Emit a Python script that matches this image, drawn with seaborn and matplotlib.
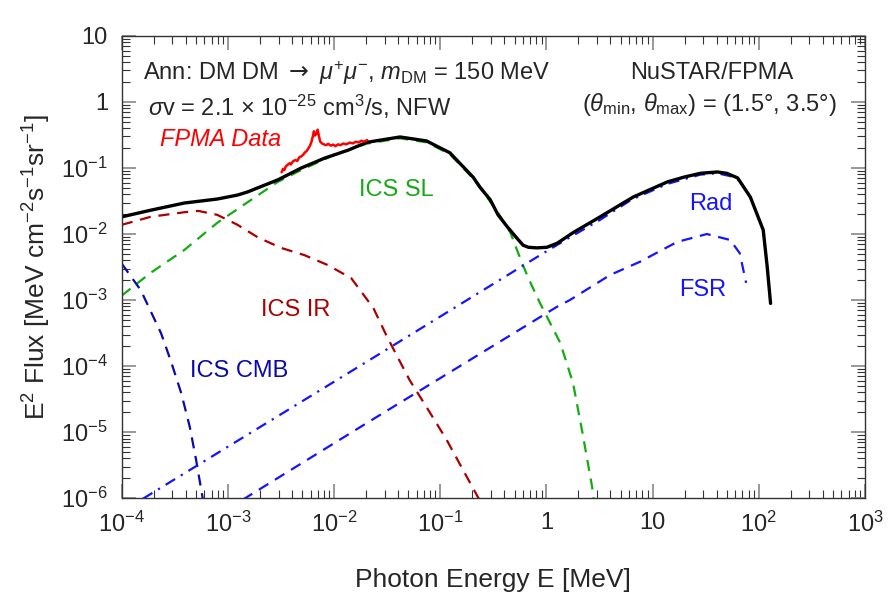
import numpy as np
import pandas as pd
import seaborn as sns
from matplotlib import pyplot as plt
from matplotlib import ticker

sns.set_style('ticks')
plt.rcParams['font.family'] = ['Liberation Sans', 'DejaVu Sans']
plt.rcParams['mathtext.fontset'] = 'custom'
plt.rcParams['mathtext.rm'] = 'Liberation Sans'
plt.rcParams['mathtext.it'] = 'Liberation Sans:italic'
plt.rcParams['mathtext.bf'] = 'Liberation Sans:bold'
plt.rcParams['mathtext.sf'] = 'DejaVu Sans'

# total spectrum
total_E = [1.0e-4, 1.86e-4, 3.89e-4, 7.94e-4, 1.23e-3, 1.55e-3, 1.91e-3, 2.95e-3, 4.9e-3,
           8.13e-3, 1.35e-2, 2.04e-2, 4.17e-2, 7.41e-2, 0.123, 0.204, 0.237, 0.295, 0.35,
           0.427, 0.525, 0.603, 0.676, 0.813, 1.01, 1.26, 1.78, 3.2, 6.55, 13.8, 19.5, 28.2,
           40.7, 50.0, 63.1, 83.2, 110, 120, 129]
total_F = [1.82e-2, 2.29e-2, 2.95e-2, 3.39e-2, 3.89e-2, 4.37e-2, 5.01e-2, 6.61e-2, 0.100,
           0.141, 0.186, 0.245, 0.295, 0.257, 0.170, 7.24e-2, 5.1e-2, 3.31e-2, 1.95e-2,
           1.29e-2, 8.7e-3, 6.76e-3, 6.3e-3, 6.17e-3, 6.3e-3, 7.24e-3, 1.05e-2, 1.82e-2,
           3.63e-2, 6.17e-2, 7.24e-2, 8.32e-2, 8.71e-2, 8.3e-2, 7.08e-2, 3.63e-2, 1.15e-2,
           3.16e-3, 8.9e-4]

# ICS on IR photons
ir_E = [1e-4, 1.86e-4, 3.89e-4, 5.25e-4, 7.94e-4, 1.23e-3, 1.91e-3, 3.16e-3, 5.25e-3,
        8.71e-3, 1.45e-2, 2.34e-2, 3.16e-2, 5.13e-2, 7.41e-2, 0.115, 0.178, 0.229, 0.25]
ir_F = [1.38e-2, 1.82e-2, 2.14e-2, 2.24e-2, 1.95e-2, 1.38e-2, 8.91e-3, 6.17e-3, 4.79e-3,
        3.39e-3, 2.14e-3, 7.59e-4, 2.75e-4, 6.17e-5, 2.40e-5, 7.59e-6, 2.09e-6, 1.0e-6, 7.9e-7]

# ICS on starlight
sl_E = [1e-4, 1.86e-4, 3.89e-4, 7.94e-4, 1.66e-3, 2.95e-3, 4.9e-3, 1e-2, 2.04e-2, 4.17e-2,
        7.41e-2, 0.123, 0.204, 0.339, 0.457, 0.589, 0.676, 0.871, 1.35, 1.78, 2.19, 2.69, 2.88]
sl_F = [1.17e-3, 2.57e-3, 5.75e-3, 1.48e-2, 3.31e-2, 6.17e-2, 9.33e-2, 0.158, 0.234, 0.282,
        0.245, 0.162, 6.92e-2, 2.29e-2, 1.05e-2, 3.63e-3, 2.14e-3, 8.91e-4, 2.24e-4, 5.5e-5,
        9.5e-6, 1.48e-6, 6.3e-7]

# ICS on CMB
cmb_E = [1e-4, 1.51e-4, 1.95e-4, 2.34e-4, 2.88e-4, 3.63e-4, 4.37e-4, 5.01e-4, 5.75e-4, 6.03e-4]
cmb_F = [3.55e-3, 1.41e-3, 5.89e-4, 3.16e-4, 1.23e-4, 3.89e-5, 1.2e-5, 3.8e-6, 1.05e-6, 6.3e-7]

# radiative (internal bremsstrahlung)
rad_E = [1.58e-4, 1.95e-2, 0.871, 1.58, 3.16, 6.31, 13.8, 28.2, 40.7, 56.2, 70.8]
rad_F = [9.8e-7, 1.12e-4, 4.79e-3, 8.5e-3, 1.62e-2, 3.31e-2, 5.75e-2, 7.94e-2, 8.32e-2,
         7.41e-2, 6.03e-2]

# final state radiation
fsr_E = [1.38e-3, 2.04e-2, 1.26, 1.66, 3.98, 7.59, 17.0, 32.4, 53.7, 66.1, 75.9]
fsr_F = [9.5e-7, 1.38e-5, 7.94e-4, 1.0e-3, 2.4e-3, 3.8e-3, 7.59e-3, 1.0e-2, 8.13e-3,
         5.13e-3, 1.82e-3]

# NuSTAR FPMA data
fpma_E = [3.2e-3, 3.3e-3, 3.4e-3, 3.5e-3, 3.6e-3, 3.8e-3, 3.9e-3, 4.1e-3, 4.3e-3, 4.5e-3,
          4.7e-3, 4.9e-3, 5.1e-3, 5.3e-3, 5.5e-3, 5.7e-3, 5.9e-3, 6.1e-3, 6.3e-3, 6.45e-3,
          6.6e-3, 6.8e-3, 7.0e-3, 7.2e-3, 7.4e-3, 7.7e-3, 8.0e-3, 8.4e-3, 8.8e-3, 9.3e-3,
          9.8e-3, 1.03e-2, 1.09e-2, 1.15e-2, 1.22e-2, 1.3e-2, 1.4e-2, 1.5e-2, 1.6e-2, 1.7e-2,
          1.8e-2, 1.9e-2, 2.05e-2]
fpma_F = [0.086, 0.097, 0.093, 0.105, 0.110, 0.118, 0.113, 0.126, 0.132, 0.128,
          0.145, 0.150, 0.158, 0.172, 0.180, 0.196, 0.215, 0.245, 0.300, 0.36,
          0.31, 0.33, 0.38, 0.30, 0.25, 0.235, 0.228, 0.222, 0.232, 0.218,
          0.226, 0.214, 0.228, 0.222, 0.235, 0.228, 0.242, 0.236, 0.250, 0.244,
          0.258, 0.250, 0.265]

fig = plt.figure(figsize=(8.89, 6.09), dpi=100)
ax = fig.add_axes([0.137, 0.182, 0.836, 0.759])
ax.set_xscale('log')
ax.set_yscale('log')

dash = (0, (5, 3.5))
dashdot = (0, (5, 3, 1, 3))

sns.lineplot(x=ir_E, y=ir_F, ax=ax, color='#aa0000', lw=1.6, linestyle=dash, sort=False, estimator=None)
sns.lineplot(x=sl_E, y=sl_F, ax=ax, color='#14aa14', lw=1.6, linestyle=dash, sort=False, estimator=None)
sns.lineplot(x=cmb_E, y=cmb_F, ax=ax, color='#0a0aa8', lw=1.6, linestyle=dash, sort=False, estimator=None)
sns.lineplot(x=rad_E, y=rad_F, ax=ax, color='#1414ff', lw=1.6, linestyle=dashdot, sort=False, estimator=None)
sns.lineplot(x=fsr_E, y=fsr_F, ax=ax, color='#1414ff', lw=1.6, linestyle=dash, sort=False, estimator=None)
sns.lineplot(x=total_E, y=total_F, ax=ax, color='black', lw=2.4, sort=False, estimator=None)
sns.lineplot(x=fpma_E, y=fpma_F, ax=ax, color='#ff0000', lw=1.8, sort=False, estimator=None)

ax.set_xlim(1e-4, 1e3)
ax.set_ylim(1e-6, 10)


def log_label(v, pos):
    e = int(round(np.log10(v)))
    if e == 0:
        return '1'
    if e == 1:
        return '10'
    return '$10^{%d}$' % e


for axis in (ax.xaxis, ax.yaxis):
    axis.set_major_locator(ticker.LogLocator(base=10, numticks=20))
    axis.set_minor_locator(ticker.LogLocator(base=10, subs=np.arange(2, 10), numticks=20))
    axis.set_major_formatter(ticker.FuncFormatter(log_label))
    axis.set_minor_formatter(ticker.NullFormatter())

ax.tick_params(which='both', direction='in', top=True, right=True, labelsize=17, pad=10)
ax.tick_params(which='major', length=10, width=1.2, color='#888888')
ax.tick_params(which='minor', length=6, width=0.8, color='#333333')
for s in ax.spines.values():
    s.set_color('#333333')
    s.set_linewidth(1.0)

ax.set_xlabel('Photon Energy E [MeV]', fontsize=19, labelpad=22)
ax.set_ylabel('E$^2$ Flux [MeV cm$^{-2}$s$^{-1}$sr$^{-1}$]', fontsize=19, labelpad=6)

fs = 17
ax.text(0.028, 0.92, r'Ann: DM DM $\mathsf{\rightarrow}$ $\mu^{+}\mu^{-}$, $m_{\rm DM}$ = 150 MeV',
        transform=ax.transAxes, fontsize=fs, ha='left', va='center')
ax.text(0.035, 0.846, r'$\sigma$v = 2.1 × 10$^{-25}$ cm$^3$/s, NFW', transform=ax.transAxes,
        fontsize=fs, ha='left', va='center')
ax.text(0.794, 0.92, 'NuSTAR/FPMA', transform=ax.transAxes, fontsize=fs, ha='center', va='center')
ax.text(0.791, 0.851, r'($\theta_{\rm min}$, $\theta_{\rm max}$) = (1.5°, 3.5°)', transform=ax.transAxes,
        fontsize=fs, ha='center', va='center')
ax.text(0.133, 0.775, 'FPMA Data', transform=ax.transAxes, fontsize=fs, color='#ff0000',
        style='italic', ha='center', va='center')
ax.text(0.370, 0.667, 'ICS SL', transform=ax.transAxes, fontsize=fs, color='#14aa14', ha='center', va='center')
ax.text(0.793, 0.636, 'Rad', transform=ax.transAxes, fontsize=fs, color='#1414ff', ha='center', va='center')
ax.text(0.781, 0.450, 'FSR', transform=ax.transAxes, fontsize=fs, color='#1414ff', ha='center', va='center')
ax.text(0.234, 0.407, 'ICS IR', transform=ax.transAxes, fontsize=fs, color='#aa0000', ha='center', va='center')
ax.text(0.158, 0.275, 'ICS CMB', transform=ax.transAxes, fontsize=fs, color='#0a0aa8', ha='center', va='center')

fig.savefig('out.png', dpi=100)
